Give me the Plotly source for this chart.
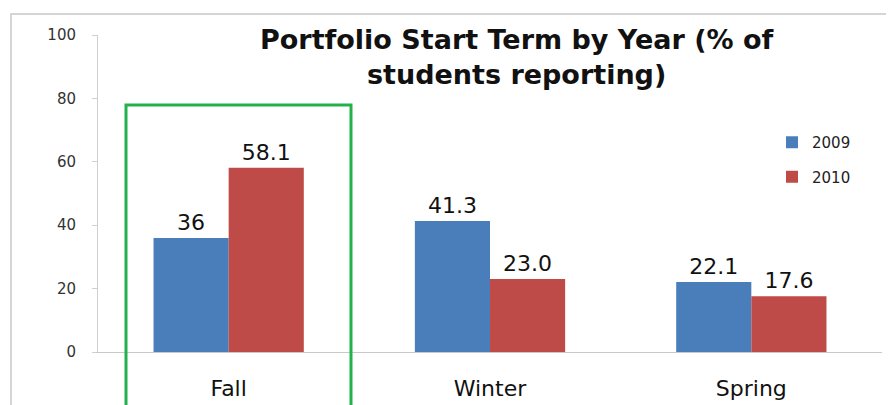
import plotly.graph_objects as go

categories = ["Fall", "Winter", "Spring"]
series_names = ["2009", "2010"]
values_2009 = [36, 41.3, 22.1]
values_2010 = [58.1, 23.0, 17.6]
labels_2009 = ["36", "41.3", "22.1"]
labels_2010 = ["58.1", "23.0", "17.6"]
y_ticks = [0, 20, 40, 60, 80, 100]

FONT = "DejaVu Sans"
OFF = 8  # page body margin
IW, IH = 894, 405
W, H = IW - OFF, IH - OFF
# plot area in image pixels: x 98..882, y 35..352
L = 98 - OFF
R = IW - 882
T = 35 - OFF
B = IH - 352
pw, ph = W - L - R, H - T - B

def px2x(px):
    return (px - OFF - L) / pw

def py2y(py):
    return (H - B - (py - OFF)) / ph

fig = go.Figure()
fig.add_trace(go.Bar(
    x=categories, y=values_2009, name=series_names[0], legendgroup="a",
    marker=dict(color="#4a7ebb", line=dict(width=0)),
    text=labels_2009, textposition="outside", cliponaxis=False,
    constraintext="none",
    textfont=dict(family=FONT, size=22, color="#111111"),
))
fig.add_trace(go.Bar(
    x=categories, y=values_2010, name=series_names[1], legendgroup="b",
    marker=dict(color="#be4b48", line=dict(width=0)),
    text=labels_2010, textposition="outside", cliponaxis=False,
    constraintext="none",
    textfont=dict(family=FONT, size=22, color="#111111"),
))

fig.update_layout(
    width=W, height=H,
    margin=dict(l=L, r=R, t=T, b=B, autoexpand=False),
    paper_bgcolor="white", plot_bgcolor="white",
    barmode="group", bargap=0.425, bargroupgap=0,
    font=dict(family=FONT, color="#333333"),
    legend=dict(
        x=px2x(772), y=py2y(126), xanchor="left", yanchor="top",
        font=dict(family=FONT, size=15, color="#222222"),
        bgcolor="rgba(0,0,0,0)", tracegroupgap=12,
        itemwidth=30,
    ),
    showlegend=True,
)
# two-line title
fig.add_annotation(text="<b>Portfolio Start Term by Year (% of<br>students reporting)</b>",
                   xref="paper", yref="paper", x=px2x(516), y=py2y(57),
                   xanchor="center", yanchor="middle", showarrow=False,
                   font=dict(family=FONT, size=27, color="#111111"))

fig.update_xaxes(
    showline=True, linecolor="#c8c8c8", linewidth=1,
    ticks="", showgrid=False, automargin=False,
    tickfont=dict(family=FONT, size=22, color="#111111"),
    ticklabelstandoff=17,
)
fig.update_yaxes(
    range=[0, 100], tickvals=y_ticks, showgrid=False, zeroline=False,
    showline=True, linecolor="#d0d0d0", linewidth=1, automargin=False,
    ticks="outside", ticklen=5, tickcolor="#d0d0d0",
    tickfont=dict(family=FONT, size=15, color="#333333"),
    ticklabelstandoff=13,
)

# outer chart border (cropped)
fig.add_shape(type="rect", xref="paper", yref="paper",
              x0=px2x(11), x1=px2x(905), y0=py2y(420), y1=py2y(14),
              line=dict(color="#c8c8c8", width=1.5), layer="below")
# green highlight box around Fall
fig.add_shape(type="rect", xref="paper", yref="paper",
              x0=px2x(126), x1=px2x(351), y0=py2y(415), y1=py2y(105),
              line=dict(color="#22b14c", width=3))

fig.write_html("out.html")
